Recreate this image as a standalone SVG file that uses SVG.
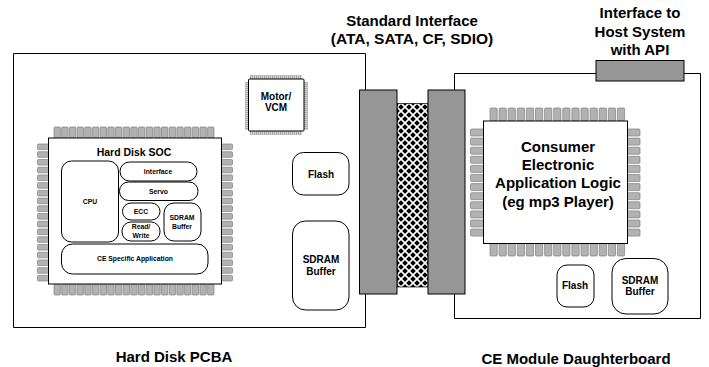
<svg xmlns="http://www.w3.org/2000/svg" width="709" height="367" viewBox="0 0 709 367">
<style>
text{font-family:"Liberation Sans",Arial,sans-serif;font-weight:bold;fill:#000;text-anchor:middle}
.b{fill:#fff;stroke:#000;stroke-width:1}
.c{fill:#969696;stroke:#000;stroke-width:1}
.p{fill:#b2b2b2;stroke:#808080;stroke-width:.7}
.t{fill:#fff;stroke:#000;stroke-width:1}
.big{font-size:15px}.lab{font-size:15px}.s{font-size:6.800px}.m{font-size:10px}
</style>
<defs>
<pattern id="mesh" width="8" height="8" patternUnits="userSpaceOnUse" x="397" y="103">
<rect width="8" height="8" fill="#fff"/>
<path d="M0 -2.800L2.800 0L0 2.800L-2.800 0ZM8 -2.800L10.800 0L8 2.800L5.200 0ZM0 5.200L2.800 8L0 10.800L-2.800 8ZM8 5.200L10.800 8L8 10.800L5.200 8ZM4 1.200L6.800 4L4 6.800L1.200 4Z" fill="#000"/>
</pattern>
<rect id="pv" width="6.400" height="11" rx="1" class="p"/>
<rect id="ph" width="11" height="5.600" rx="1" class="p"/>
<rect id="pv2" width="7.200" height="13" rx="1" class="p"/>
<rect id="ph2" width="13" height="7" rx="1" class="p"/>
<g id="soc-row"><use href="#pv" x="0"/><use href="#pv" x="7.680"/><use href="#pv" x="15.360"/><use href="#pv" x="23.040"/><use href="#pv" x="30.720"/><use href="#pv" x="38.400"/><use href="#pv" x="46.080"/><use href="#pv" x="53.760"/><use href="#pv" x="61.440"/><use href="#pv" x="69.120"/><use href="#pv" x="76.800"/><use href="#pv" x="84.480"/><use href="#pv" x="92.160"/><use href="#pv" x="99.840"/><use href="#pv" x="107.520"/><use href="#pv" x="115.200"/><use href="#pv" x="122.880"/><use href="#pv" x="130.560"/><use href="#pv" x="138.240"/><use href="#pv" x="145.920"/><use href="#pv" x="153.600"/></g>
<g id="soc-col"><use href="#ph" y="0"/><use href="#ph" y="7.730"/><use href="#ph" y="15.460"/><use href="#ph" y="23.190"/><use href="#ph" y="30.920"/><use href="#ph" y="38.650"/><use href="#ph" y="46.380"/><use href="#ph" y="54.110"/><use href="#ph" y="61.840"/><use href="#ph" y="69.570"/><use href="#ph" y="77.300"/><use href="#ph" y="85.030"/><use href="#ph" y="92.760"/><use href="#ph" y="100.490"/><use href="#ph" y="108.220"/><use href="#ph" y="115.950"/><use href="#ph" y="123.680"/><use href="#ph" y="131.400"/></g>
<g id="ce-row"><use href="#pv2" x="0"/><use href="#pv2" x="9.100"/><use href="#pv2" x="18.200"/><use href="#pv2" x="27.300"/><use href="#pv2" x="36.400"/><use href="#pv2" x="45.500"/><use href="#pv2" x="54.600"/><use href="#pv2" x="63.700"/><use href="#pv2" x="72.800"/><use href="#pv2" x="81.900"/><use href="#pv2" x="91"/><use href="#pv2" x="100.100"/><use href="#pv2" x="109.200"/><use href="#pv2" x="118.300"/><use href="#pv2" x="127.400"/></g>
<g id="ce-col"><use href="#ph2" y="0"/><use href="#ph2" y="9.100"/><use href="#ph2" y="18.200"/><use href="#ph2" y="27.300"/><use href="#ph2" y="36.400"/><use href="#ph2" y="45.500"/><use href="#ph2" y="54.600"/><use href="#ph2" y="63.700"/><use href="#ph2" y="72.800"/><use href="#ph2" y="81.900"/><use href="#ph2" y="91"/><use href="#ph2" y="100.100"/></g>
</defs>

<g id="connectors" fill="none" stroke="#000" stroke-width="1">
<path d="M365.500 90V53.500H13.500V327.500H365.500V294"/>
<path d="M454.500 90V73.500H700.500V318.500H454.500V294"/>
</g>

<g id="hard-disk-soc">
<use href="#soc-row" x="54" y="127"/><use href="#soc-row" x="54" y="284"/>
<use href="#soc-col" x="37.500" y="144"/><use href="#soc-col" x="221.500" y="144"/>
<rect x="48.500" y="138" width="173" height="146" class="b"/>
<text x="134" y="156" style="font-size:10.500px">Hard Disk SOC</text>
</g>
<g id="cpu"><rect x="61.500" y="161" width="57" height="81" rx="10" class="t"/><text x="90" y="203.500" class="s">CPU</text></g>
<g id="interface"><rect x="120" y="162" width="77" height="19" rx="9.500" class="t"/><text x="158" y="174" class="s">Interface</text></g>
<g id="servo"><rect x="119.500" y="182" width="78.500" height="18.500" rx="9" class="t"/><text x="158.500" y="193.500" class="s">Servo</text></g>
<g id="ecc"><rect x="122.500" y="203" width="37.500" height="17" rx="8.500" class="t"/><text x="141" y="213.500" class="s">ECC</text></g>
<g id="read-write"><rect x="122" y="222" width="38" height="19" rx="9" class="t"/><text x="141" y="228.500" class="s">Read/</text><text x="141" y="237.500" class="s">Write</text></g>
<g id="soc-sdram"><rect x="164" y="203" width="37" height="38" rx="10" class="t"/><text x="182" y="220" class="s">SDRAM</text><text x="182" y="228.500" class="s">Buffer</text></g>
<g id="ce-specific"><rect x="61.500" y="244" width="146.500" height="30" rx="11" class="t"/><text x="135" y="261" class="s">CE Specific Application</text></g>

<g id="motor">
<g stroke="#a8a8a8" stroke-width="4" stroke-dasharray="1.500 .5" fill="none">
<path d="M250 77H302M250 133H302M247 82V130M306 82V130"/>
</g>
<rect x="248.500" y="79" width="55.500" height="52" rx="1" class="b"/>
<text x="276" y="99.500" class="m">Motor/</text><text x="276" y="110.500" class="m">VCM</text>
</g>
<g id="flash-left"><rect x="292.500" y="152.500" width="56.500" height="42.500" rx="11" class="t"/><text x="321" y="177.500" class="m">Flash</text></g>
<g id="sdram-left"><rect x="292.500" y="221" width="56.500" height="89" rx="13" class="t"/><text x="321" y="263" class="m">SDRAM</text><text x="321" y="275" class="m">Buffer</text></g>

<g id="standard-interface">
<rect x="397" y="103.500" width="31" height="183.500" fill="url(#mesh)" stroke="#000" stroke-width=".7"/>
<rect x="359.500" y="90" width="37.500" height="204" class="c"/>
<rect x="428" y="90" width="37" height="204" class="c"/>
</g>
<g id="host-connector"><rect x="596" y="60.500" width="88" height="20.500" class="c"/></g>

<g id="ce-logic">
<use href="#ce-row" x="490" y="108"/><use href="#ce-row" x="490" y="243"/>
<use href="#ce-col" x="470.500" y="129"/><use href="#ce-col" x="627" y="129"/>
<rect x="483.500" y="121" width="144" height="122.500" class="b"/>
<text x="558" y="152" class="big">Consumer</text><text x="558" y="170" class="big">Electronic</text><text x="558" y="188" class="big">Application Logic</text><text x="558" y="207" class="big">(eg mp3 Player)</text>
</g>
<g id="flash-right"><rect x="557" y="265" width="37" height="42" rx="10" class="t"/><text x="575" y="289" class="m">Flash</text></g>
<g id="sdram-right"><rect x="612" y="258.500" width="56" height="55.500" rx="14" class="t"/><text x="640" y="284" class="m">SDRAM</text><text x="640" y="295" class="m">Buffer</text></g>

<g id="labels">
<text x="412" y="26" class="lab">Standard Interface</text><text x="412" y="44" class="lab" style="font-size:15.500px">(ATA, SATA, CF, SDIO)</text>
<text x="640" y="18" class="lab">Interface to</text><text x="640" y="36.500" class="lab">Host System</text><text x="640" y="55" class="lab">with API</text>
<text x="174" y="362" class="lab">Hard Disk PCBA</text>
<text x="576" y="364" class="lab">CE Module Daughterboard</text>
</g>
</svg>
